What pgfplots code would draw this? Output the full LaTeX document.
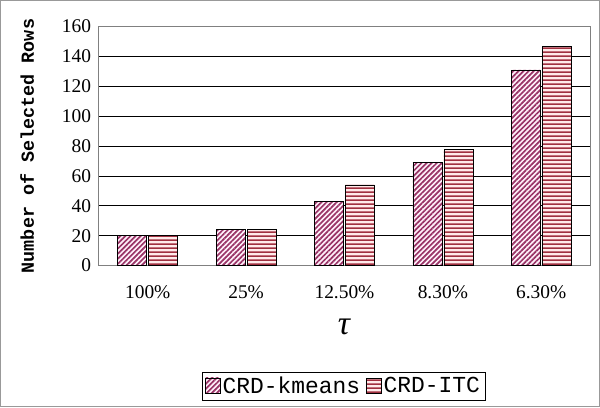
\documentclass[border=0pt]{standalone}
\usepackage{fontspec}
\setmainfont{Liberation Serif}
\newfontfamily\monofont{Liberation Mono}
\usepackage{pgfplots}
\pgfplotsset{compat=1.18}
\usetikzlibrary{patterns.meta}
\definecolor{kmc}{HTML}{993366}
\definecolor{itc}{HTML}{A03040}
\definecolor{kmbg}{HTML}{FFF0FA}
\definecolor{itbg}{HTML}{FFEAEA}
\begin{document}
\begin{tikzpicture}
\draw[gray!80, line width=1.2bp, fill=white] (-98bp,-141bp) rectangle (501bp,265bp);
\begin{axis}[
  width=492bp, height=239bp, scale only axis,
  xmin=-0.5, xmax=4.5, ymin=0, ymax=160,
  ytick={0,20,...,160},
  xtick={0,1,2,3,4},
  xticklabels={100\%,25\%,12.50\%,8.30\%,6.30\%},
  major x tick style={draw=none},
  extra x ticks={0.5,1.5,2.5,3.5},
  extra x tick labels={},
  extra x tick style={major tick length=6bp, tick style={draw=black, line width=0.8bp}, tick align=inside, grid=none},
  ymajorgrids, grid style={black, line width=0.8bp},
  axis line style={gray, line width=0.8bp},
  y tick style={draw=none},
  tick label style={font=\fontsize{19.5}{19.5}\selectfont},
  /pgf/number format/assume math mode=true,
  xticklabel style={yshift=-12bp},
  yticklabel style={xshift=-4bp},
  ylabel={\monofont\bfseries Number of Selected Rows},
  ylabel style={font=\fontsize{18.5}{18.5}\selectfont, at={(axis description cs:-0.145,0.5)}, anchor=center},
  xlabel={\textit{τ}},
  xlabel style={font=\fontsize{34}{34}\selectfont, at={(axis description cs:0.5,-0.255)}, anchor=center},
  ybar, bar width=29bp, 
  legend columns=2,
  legend style={at={(axis description cs:0.498,-0.504)}, anchor=center, draw=black, line width=0.6bp,
     font=\fontsize{23}{23}\selectfont\monofont, inner sep=3bp,
     /tikz/every even column/.append style={column sep=4bp}},
  legend image code/.code={\draw[#1, line width=0.6bp] (0bp,-7bp) rectangle (15bp,8bp);},
]
\addplot[draw=black, line width=0.6bp, fill=kmbg, postaction={pattern={Lines[angle=45, distance=3.6pt, line width=1.7pt]}, pattern color=kmc}]
  coordinates {(0,20) (1,24) (2,43) (3,69) (4,131)};
\addplot[draw=black, line width=0.6bp, fill=itbg, postaction={pattern={Lines[angle=0, distance=4pt, line width=1.5pt]}, pattern color=itc}]
  coordinates {(0,20) (1,24) (2,54) (3,78) (4,147)};
\legend{CRD-kmeans,CRD-ITC}
\end{axis}
\end{tikzpicture}
\end{document}
